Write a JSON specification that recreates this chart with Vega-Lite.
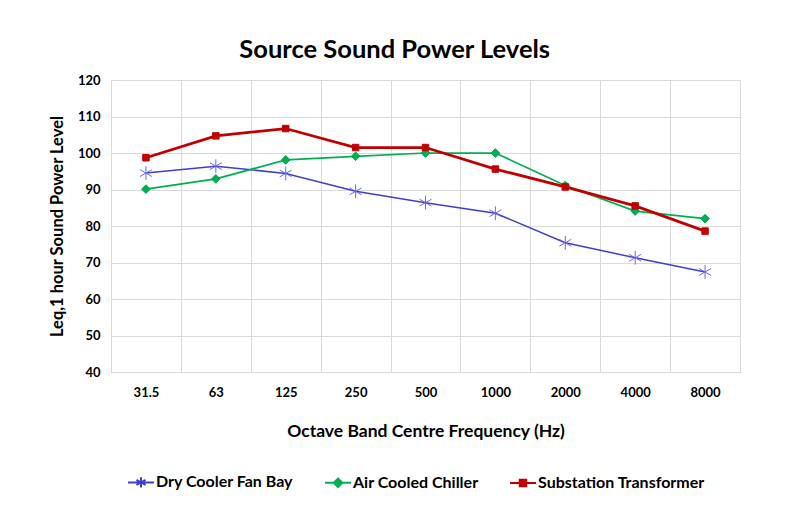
{
  "$schema": "https://vega.github.io/schema/vega-lite/v6.json",
  "width": 629,
  "height": 292,
  "autosize": {"type": "none"},
  "padding": {"left": 111, "top": 80, "right": 50, "bottom": 153},
  "background": "white",
  "title": {"text": "Source Sound Power Levels", "font": "Lato", "fontSize": 25.5, "fontWeight": "bold", "color": "#000000", "anchor": "middle", "frame": "bounds", "offset": 11},
  "data": {"values": [
    {"series": "Dry Cooler Fan Bay", "freq": "31.5", "level": 94.5},
    {"series": "Dry Cooler Fan Bay", "freq": "63", "level": 96.4},
    {"series": "Dry Cooler Fan Bay", "freq": "125", "level": 94.4},
    {"series": "Dry Cooler Fan Bay", "freq": "250", "level": 89.5},
    {"series": "Dry Cooler Fan Bay", "freq": "500", "level": 86.4},
    {"series": "Dry Cooler Fan Bay", "freq": "1000", "level": 83.5},
    {"series": "Dry Cooler Fan Bay", "freq": "2000", "level": 75.4},
    {"series": "Dry Cooler Fan Bay", "freq": "4000", "level": 71.3},
    {"series": "Dry Cooler Fan Bay", "freq": "8000", "level": 67.4},
    {"series": "Air Cooled Chiller", "freq": "31.5", "level": 90.1},
    {"series": "Air Cooled Chiller", "freq": "63", "level": 92.9},
    {"series": "Air Cooled Chiller", "freq": "125", "level": 98.1},
    {"series": "Air Cooled Chiller", "freq": "250", "level": 99.1},
    {"series": "Air Cooled Chiller", "freq": "500", "level": 100.0},
    {"series": "Air Cooled Chiller", "freq": "1000", "level": 100.0},
    {"series": "Air Cooled Chiller", "freq": "2000", "level": 91.1},
    {"series": "Air Cooled Chiller", "freq": "4000", "level": 84.1},
    {"series": "Air Cooled Chiller", "freq": "8000", "level": 82.0},
    {"series": "Substation Transformer", "freq": "31.5", "level": 98.7},
    {"series": "Substation Transformer", "freq": "63", "level": 104.7},
    {"series": "Substation Transformer", "freq": "125", "level": 106.7},
    {"series": "Substation Transformer", "freq": "250", "level": 101.5},
    {"series": "Substation Transformer", "freq": "500", "level": 101.5},
    {"series": "Substation Transformer", "freq": "1000", "level": 95.6},
    {"series": "Substation Transformer", "freq": "2000", "level": 90.7},
    {"series": "Substation Transformer", "freq": "4000", "level": 85.5},
    {"series": "Substation Transformer", "freq": "8000", "level": 78.6}
  ]},
  "encoding": {
    "x": {
      "field": "freq", "type": "ordinal", "sort": null, "bandPosition": 0.5,
      "scale": {"type": "band", "paddingInner": 0, "paddingOuter": 0},
      "axis": {
        "title": "Octave Band Centre Frequency (Hz)",
        "labelAngle": 0, "ticks": false, "grid": true, "tickBand": "extent",
        "gridColor": "#d9d9d9", "domainColor": "#d9d9d9",
        "labelFont": "Lato", "labelFontSize": 13, "labelFontWeight": "bold", "labelColor": "#000000", "labelPadding": 14,
        "titleFont": "Lato", "titleFontSize": 17.5, "titleFontWeight": "bold", "titleColor": "#000000", "titlePadding": 23
      }
    },
    "y": {
      "field": "level", "type": "quantitative",
      "scale": {"domain": [40, 120], "nice": false, "zero": false},
      "axis": {
        "title": "Leq,1 hour Sound Power Level", "values": [40, 50, 60, 70, 80, 90, 100, 110, 120],
        "ticks": false, "grid": true, "gridColor": "#d9d9d9", "domainColor": "#d9d9d9",
        "labelFont": "Lato", "labelFontSize": 13, "labelFontWeight": "bold", "labelColor": "#000000", "labelPadding": 11,
        "titleFont": "Lato", "titleFontSize": 16.5, "titleFontWeight": "bold", "titleColor": "#000000", "titlePadding": 12
      }
    },
    "color": {
      "field": "series", "type": "nominal",
      "scale": {"domain": ["Dry Cooler Fan Bay", "Air Cooled Chiller", "Substation Transformer"], "range": ["#3f3fcc", "#00b050", "#c00000"]},
      "legend": {
        "title": null, "orient": "none", "direction": "horizontal", "legendX": 16, "legendY": 388,
        "labelFont": "Lato", "labelFontSize": 16, "labelFontWeight": "bold", "labelColor": "#000000", "labelOffset": 1, "labelLimit": 300,
        "columnPadding": 27, "symbolSize": 676, "symbolStrokeWidth": 2,
        "encode": {"symbols": {"update": {
          "shape": {"signal": "datum.value === 'Dry Cooler Fan Bay' ? 'M-1,0L1,0M0,-0.4L0,0.4M-0.35,-0.2L0.35,0.2M-0.35,0.2L0.35,-0.2' : datum.value === 'Air Cooled Chiller' ? 'M-1,0L1,0M0,-0.33L0.33,0L0,0.33L-0.33,0Z' : 'M-1,0L1,0M-0.25,-0.25L0.25,-0.25L0.25,0.25L-0.25,0.25Z'"},
          "size": {"value": 676},
          "strokeWidth": {"value": 2},
          "opacity": {"value": 1}
        }}}
      }
    }
  },
  "layer": [
    {
      "transform": [{"filter": "datum.series === 'Dry Cooler Fan Bay'"}],
      "mark": {"type": "line", "strokeWidth": 1.5}
    },
    {
      "transform": [{"filter": "datum.series === 'Dry Cooler Fan Bay'"}],
      "mark": {"type": "point", "filled": false, "opacity": 1, "strokeWidth": 1, "shape": "M0,-1L0,1M-0.87,-0.5L0.87,0.5M-0.87,0.5L0.87,-0.5", "size": 190, "stroke": "#6a6ae0"}
    },
    {
      "transform": [{"filter": "datum.series === 'Air Cooled Chiller'"}],
      "mark": {"type": "line", "strokeWidth": 1.75}
    },
    {
      "transform": [{"filter": "datum.series === 'Air Cooled Chiller'"}],
      "mark": {"type": "point", "filled": true, "opacity": 1, "strokeWidth": 1, "shape": "M0,-1L1,0L0,1L-1,0Z", "size": 75, "stroke": "#00a650"}
    },
    {
      "transform": [{"filter": "datum.series === 'Substation Transformer'"}],
      "mark": {"type": "line", "strokeWidth": 2.75}
    },
    {
      "transform": [{"filter": "datum.series === 'Substation Transformer'"}],
      "mark": {"type": "point", "filled": true, "opacity": 1, "strokeWidth": 1, "shape": "M-1,-1L1,-1L1,1L-1,1Z", "size": 42, "stroke": "#c00000"}
    }
  ],
  "config": {"view": {"stroke": "#d9d9d9"}}
}
